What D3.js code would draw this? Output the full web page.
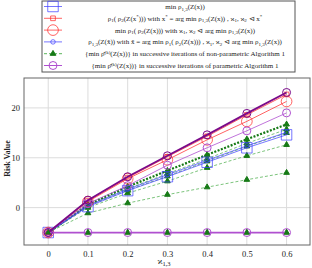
<!DOCTYPE html>
<html>
<head>
<meta charset="utf-8">
<script src="https://cdn.jsdelivr.net/npm/d3@7"></script>
<style>
  body { margin: 0; background: #fff; }
  text { font-family: "Liberation Serif", "DejaVu Serif", serif; }
</style>
</head>
<body>
<div id="chart"></div>
<script>
// DATA ---------------------------------------------------------------
const xValues = [0, 0.1, 0.2, 0.3, 0.4, 0.5, 0.6];
const xTicks = [0, 0.1, 0.2, 0.3, 0.4, 0.5, 0.6];
const yTicks = [0, 10, 20];

const minRho13 = [-5, 0.2, 3.4, 6.2, 9.1, 12.0, 14.6];
const rhoAtXStar = [-5, 1.4, 6.0, 10.2, 14.3, 18.6, 22.7];
const minRho1Rho2 = [-5, 1.2, 5.8, 9.6, 13.6, 17.3, 21.3];
const rho13AtXTilde = [-5, 0.4, 3.7, 6.6, 9.5, 12.4, 15.1];

// non-parametric iterations
const nonParamIters = [
  [-5, -5, -5, -5, -5, -5, -5],
  [-5, -1.1, 0.9, 2.6, 4.1, 5.6, 7.0],
  [-5, 0.0, 2.9, 5.3, 8.0, 10.4, 12.6],
  [-5, 0.3, 3.5, 6.3, 9.3, 12.3, 15.0],
  [-5, 0.5, 3.8, 6.8, 9.8, 12.9, 15.7],
  [-5, 0.6, 4.2, 7.4, 10.6, 13.7, 16.7]
];
// parametric iterations
const paramIters = [
  [-5, -5, -5, -5, -5, -5, -5],
  [-5, 0.8, 4.4, 8.5, 12.0, 15.4, 19.0],
  [-5, 1.5, 6.2, 10.4, 14.6, 18.9, 23.1]
];

const legendLabels = [
  "min ρ<sub>1,3</sub>(Z(x))",
  "ρ<sub>1</sub>( ρ<sub>2</sub>(Z(x<sup>*</sup>))) with x<sup>*</sup> = arg min ρ<sub>1,3</sub>(Z(x)) , ϰ<sub>1</sub>, ϰ<sub>2</sub> ⊲ x<sup>*</sup>",
  "min ρ<sub>1</sub>( ρ<sub>2</sub>(Z(x))) with ϰ<sub>1</sub>, ϰ<sub>2</sub> ⊲ arg min ρ<sub>1,3</sub>(Z(x))",
  "ρ<sub>1,3</sub>(Z(x̃)) with x̃ = arg min ρ<sub>1</sub>( ρ<sub>2</sub>(Z(x))) , ϰ<sub>1</sub>, ϰ<sub>2</sub> ⊲ arg min ρ<sub>1,3</sub>(Z(x))",
  "{min ρ̂<sup>(k)</sup>(Z(x))} in successive iterations of non-parametric Algorithm 1",
  "{min ρ̂<sup>(k)</sup>(Z(x))} in successive iterations of parametric Algorithm 1"
];

// SETUP --------------------------------------------------------------
const width = 312, height = 268;
const margins = {top: 78, right: 2, bottom: 23, left: 24};

const svg = d3.select("#chart").append("svg")
  .attr("width", width)
  .attr("height", height);

const x = d3.scaleLinear().domain([-0.061, 0.659]).range([margins.left, width - margins.right]);
const y = d3.scaleLinear().domain([-7.5, 26]).range([height - margins.bottom, margins.top]);

const line = d3.line().x((d, i) => x(xValues[i])).y(d => y(d));

const colors = {
  blue: "rgba(60,60,255,0.7)",
  red: "rgba(255,40,40,0.72)",
  greenLine: "#5cb55c",
  greenMark: "#167a16",
  purple: "#b050d0",
  darkPurple: "#7a0a8a"
};

// GRID ---------------------------------------------------------------
const grid = svg.append("g");
grid.selectAll(".vg").data(xTicks).enter().append("line")
  .attr("x1", d => x(d)).attr("x2", d => x(d))
  .attr("y1", margins.top).attr("y2", height - margins.bottom)
  .attr("stroke", "#dcdcdc").attr("stroke-width", 1);
grid.selectAll(".hg").data(yTicks).enter().append("line")
  .attr("x1", margins.left).attr("x2", width - margins.right)
  .attr("y1", d => y(d)).attr("y2", d => y(d))
  .attr("stroke", "#dcdcdc").attr("stroke-width", 1);

// AXES ---------------------------------------------------------------
const xAxis = svg.append("g")
  .attr("transform", `translate(0,${height - margins.bottom})`)
  .call(d3.axisBottom(x).tickValues(xTicks).tickSize(0).tickPadding(6).tickFormat(d => d === 0 ? "0" : d3.format(".1f")(d)));
const yAxis = svg.append("g")
  .attr("transform", `translate(${margins.left},0)`)
  .call(d3.axisLeft(y).tickValues(yTicks).tickSize(0).tickPadding(4));
[xAxis, yAxis].forEach(a => {
  a.select(".domain").remove();
  a.selectAll("text").style("font-family", "Liberation Serif, serif").style("font-size", "8.5px").attr("fill", "#222");
});

svg.append("rect")
  .attr("x", margins.left).attr("y", margins.top)
  .attr("width", width - margins.right - margins.left)
  .attr("height", height - margins.bottom - margins.top)
  .attr("fill", "none").attr("stroke", "#666").attr("stroke-width", 1);

svg.append("text")
  .attr("transform", `translate(10,${(margins.top + height - margins.bottom) / 2 - 3}) rotate(-90)`)
  .attr("text-anchor", "middle")
  .style("font-size", "8px").style("font-weight", "bold").attr("fill", "#222")
  .text("Risk Value");

const xLabel = svg.append("text")
  .attr("x", 164).attr("y", 264)
  .attr("text-anchor", "middle")
  .style("font-size", "9px").attr("fill", "#222");
xLabel.append("tspan").text("ϰ");
xLabel.append("tspan").attr("dy", 2).style("font-size", "6.5px").text("1,3");

// SERIES -------------------------------------------------------------
const plot = svg.append("g");

function drawSeries(values, opts) {
  plot.append("path")
    .datum(values)
    .attr("d", line)
    .attr("fill", "none")
    .attr("stroke", opts.stroke)
    .attr("stroke-width", opts.width || 1)
    .attr("stroke-dasharray", opts.dash || null);
  const sym = d3.symbol().type(opts.symbol).size(opts.size);
  plot.selectAll(null).data(values).enter().append("path")
    .attr("d", sym)
    .attr("transform", (d, i) => `translate(${x(xValues[i])},${y(d)})`)
    .attr("fill", opts.fill || "none")
    .attr("stroke", opts.markStroke || opts.stroke)
    .attr("stroke-width", opts.markWidth || 1);
}

const seriesStyles = [
  {symbol: d3.symbolSquare, size: 110, stroke: colors.blue},
  {symbol: d3.symbolSquare, size: 22, stroke: colors.red},
  {symbol: d3.symbolCircle, size: 90, stroke: colors.red},
  {symbol: d3.symbolCircle, size: 16, stroke: colors.blue},
  {symbol: d3.symbolTriangle, size: 14, stroke: colors.greenLine, dash: "3,2", fill: colors.greenMark, markStroke: colors.greenMark},
  {symbol: d3.symbolCircle, size: 50, stroke: colors.purple}
];

nonParamIters.forEach((vals, i) => {
  const last = i === nonParamIters.length - 1;
  drawSeries(vals, Object.assign({}, seriesStyles[4], {
    stroke: last ? colors.greenMark : colors.greenLine,
    width: last ? 2.2 : 0.8,
    dash: last ? "2,1.5" : "3,2"
  }));
});
drawSeries(minRho13, seriesStyles[0]);
drawSeries(rho13AtXTilde, seriesStyles[3]);
drawSeries(minRho1Rho2, seriesStyles[2]);
drawSeries(rhoAtXStar, seriesStyles[1]);
paramIters.forEach((vals, i) => {
  const last = i === paramIters.length - 1;
  drawSeries(vals, Object.assign({}, seriesStyles[5], {
    stroke: last ? colors.darkPurple : colors.purple,
    width: last ? 1.8 : (i === 0 ? 1.8 : 0.8)
  }));
});
// triangles of the flat iteration sit on top of the purple rings
plot.selectAll(null).data(nonParamIters[0]).enter().append("path")
  .attr("d", d3.symbol().type(d3.symbolTriangle).size(14))
  .attr("transform", (d, i) => `translate(${x(xValues[i])},${y(d)})`)
  .attr("fill", colors.greenMark);

// LEGEND -------------------------------------------------------------
const legend = svg.append("g");
legend.append("rect")
  .attr("x", 42).attr("y", 1).attr("width", 253).attr("height", 71)
  .attr("fill", "#fff").attr("stroke", "#555").attr("stroke-width", 1);

const rowY = d3.scaleLinear().domain([0, 5]).range([6.5, 65.5]);

seriesStyles.forEach((s, i) => {
  const yy = rowY(i);
  legend.append("line")
    .attr("x1", 44).attr("x2", 62).attr("y1", yy).attr("y2", yy)
    .attr("stroke", i === 5 ? colors.purple : s.stroke)
    .attr("stroke-width", 1)
    .attr("stroke-dasharray", s.dash || null);
  legend.append("path")
    .attr("d", d3.symbol().type(s.symbol).size(s.size)())
    .attr("transform", `translate(53,${yy})`)
    .attr("fill", s.fill || "none")
    .attr("stroke", s.markStroke || s.stroke);
});

legendLabels.forEach((lab, i) => {
  const t = legend.append("text")
    .attr("x", 185).attr("y", rowY(i) + 2.5)
    .attr("text-anchor", "middle")
    .style("font-size", "7px").attr("fill", "#222");
  // split into plain / sub / sup pieces
  const parts = lab.split(/(<sub>.*?<\/sub>|<sup>.*?<\/sup>)/).filter(p => p.length);
  let shift = 0;
  parts.forEach(p => {
    let dy = 0, txt = p, small = false;
    if (p.startsWith("<sub>")) { dy = 1.5; txt = p.slice(5, -6); small = true; }
    else if (p.startsWith("<sup>")) { dy = -2.5; txt = p.slice(5, -6); small = true; }
    t.append("tspan")
      .attr("dy", dy - shift)
      .style("font-size", small ? "5px" : "7px")
      .text(txt);
    shift = dy;
  });
});
</script>
</body>
</html>
